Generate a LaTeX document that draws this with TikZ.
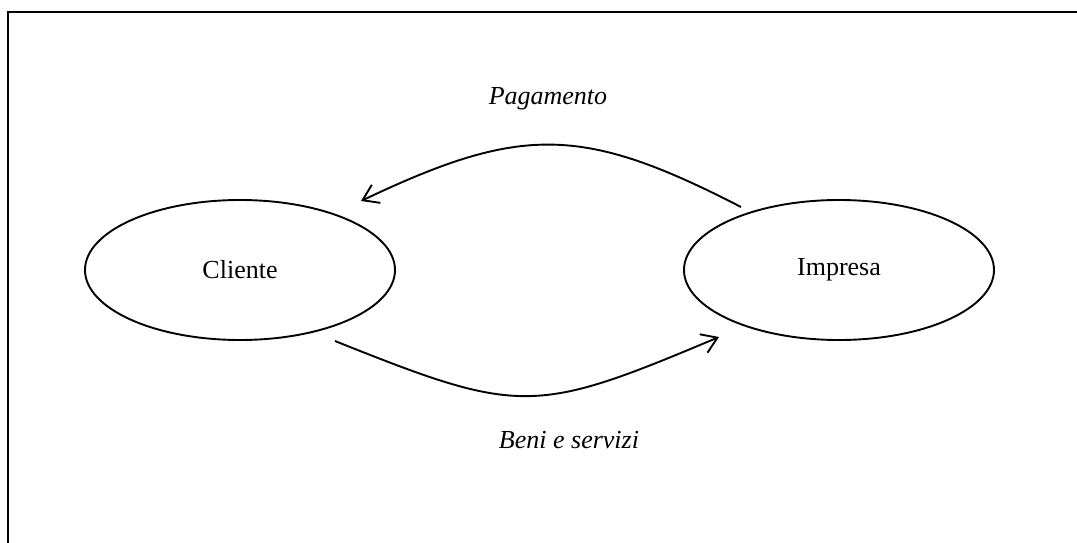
\documentclass[tikz,border=0pt]{standalone}
\usepackage{fontspec}
\setmainfont{Liberation Serif}
\usetikzlibrary{arrows.meta,shapes.geometric}
\begin{document}
\begin{tikzpicture}[x=1pt,y=-1pt,
  ell/.style={draw,ellipse,line width=1.9pt,minimum width=310pt,minimum height=140pt,inner sep=0pt,font=\fontsize{26}{31}\selectfont},
  lbl/.style={font=\fontsize{26}{31}\selectfont\itshape,anchor=base,inner sep=0pt},
  flow/.style={line width=1.9pt,-{Straight Barb[length=15pt,width=20pt,line width=1.9pt]}},
  frame/.style={line width=2.4pt}]
\useasboundingbox (0,0) rectangle (1077,543);
\coordinate (tl) at (8,12);
\coordinate (tr) at (1077,12);
\coordinate (bl) at (8,543);
\draw[frame] (tr) -- (tl) -- (bl);
\node[ell] (cli) at (240,270) {Cliente};
\node[ell] (imp) at (839,270) {Impresa};
\node[lbl] (pag) at (548,105) {Pagamento};
\node[lbl] (ben) at (569,448) {Beni e servizi};
\draw[flow] ([shift={(-98,-63)}]imp.center) .. controls (582,125) and (521,125) .. ([shift={(121,-69)}]cli.center);
\draw[flow] ([shift={(95,71)}]cli.center) .. controls (520,415) and (534,415) .. ([shift={(-120,67)}]imp.center);
\end{tikzpicture}
\end{document}
